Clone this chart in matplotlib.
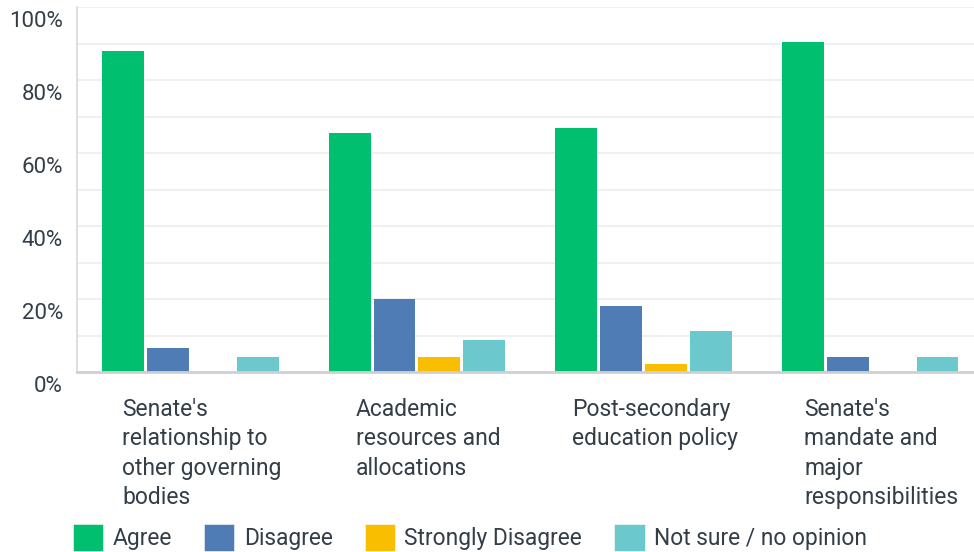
import matplotlib.pyplot as plt
import matplotlib.transforms as mtransforms
from matplotlib.patches import Patch
from matplotlib.ticker import MultipleLocator, FuncFormatter

plt.rcParams['font.family'] = ['Roboto', 'DejaVu Sans']

categories = ["Senate's\nrelationship to\nother governing\nbodies",
              "Academic\nresources and\nallocations",
              "Post-secondary\neducation policy",
              "Senate's\nmandate and\nmajor\nresponsibilities"]
series = ["Agree", "Disagree", "Strongly Disagree", "Not sure / no opinion"]
agree = [87.9, 65.5, 66.8, 90.4]
disagree = [6.6, 20.0, 18.1, 4.1]
strongly_disagree = [0.0, 4.1, 2.2, 0.0]
not_sure = [4.1, 8.8, 11.2, 4.1]
colors = ["#00BF6F", "#507CB6", "#F9BE00", "#6BC8CD"]
text_color = "#333E48"

values = [agree, disagree, strongly_disagree, not_sure]

fig = plt.figure(figsize=(9.74, 5.52), dpi=100)
W, H = 974, 552
ax = fig.add_axes([77 / W, (H - 372) / H, (983.5 - 77) / W, (372 - 7.3) / H])

step = 0.198
width = 0.185
for j, (vals, c) in enumerate(zip(values, colors)):
    xs = [i + (j - 1.5) * step for i in range(len(categories))]
    ax.bar(xs, vals, width=width, color=c, zorder=3)

ax.set_xlim(-0.5, len(categories) - 0.5)
ax.set_ylim(0, 100)
ax.yaxis.set_major_locator(MultipleLocator(20))
ax.yaxis.set_minor_locator(MultipleLocator(10))
ax.yaxis.set_major_formatter(FuncFormatter(lambda v, p: "%d%%" % v))
ax.grid(axis='y', which='both', color='#EEEEEE', linewidth=1.2, zorder=0)
ax.set_xticks([])
ax.tick_params(axis='y', which='both', length=0, labelsize=16, labelcolor=text_color, pad=10)

for lab in ax.get_yticklabels():
    lab.set_transform(lab.get_transform() + mtransforms.ScaledTranslation(0, -0.12, fig.dpi_scale_trans))

for s in ['top', 'right']:
    ax.spines[s].set_visible(False)
ax.spines['left'].set_color('#D9D9D9')
ax.spines['left'].set_linewidth(1.2)
ax.spines['bottom'].set_color('#D0D0D0')
ax.spines['bottom'].set_linewidth(2)
ax.spines['bottom'].set_zorder(4)

trans = mtransforms.blended_transform_factory(ax.transData, ax.transAxes)
for i, cat in enumerate(categories):
    ax.text(i + 0.05, -26 / 364.7, cat, transform=trans, ha='center', va='top',
            multialignment='left', fontsize=16.5, color=text_color, linespacing=1.36)

handles = [Patch(facecolor=c, edgecolor=c, linewidth=2.5, joinstyle='round', label=s)
           for c, s in zip(colors, series)]
fig.legend(handles=handles, loc='center', bbox_to_anchor=(471 / W, 1 - 538 / H), ncol=4,
           frameon=False, fontsize=16.4, labelcolor=text_color, handlelength=1.15,
           handleheight=1.15, handletextpad=0.5, columnspacing=1.5, borderaxespad=0)

fig.savefig("out.png", dpi=100)
